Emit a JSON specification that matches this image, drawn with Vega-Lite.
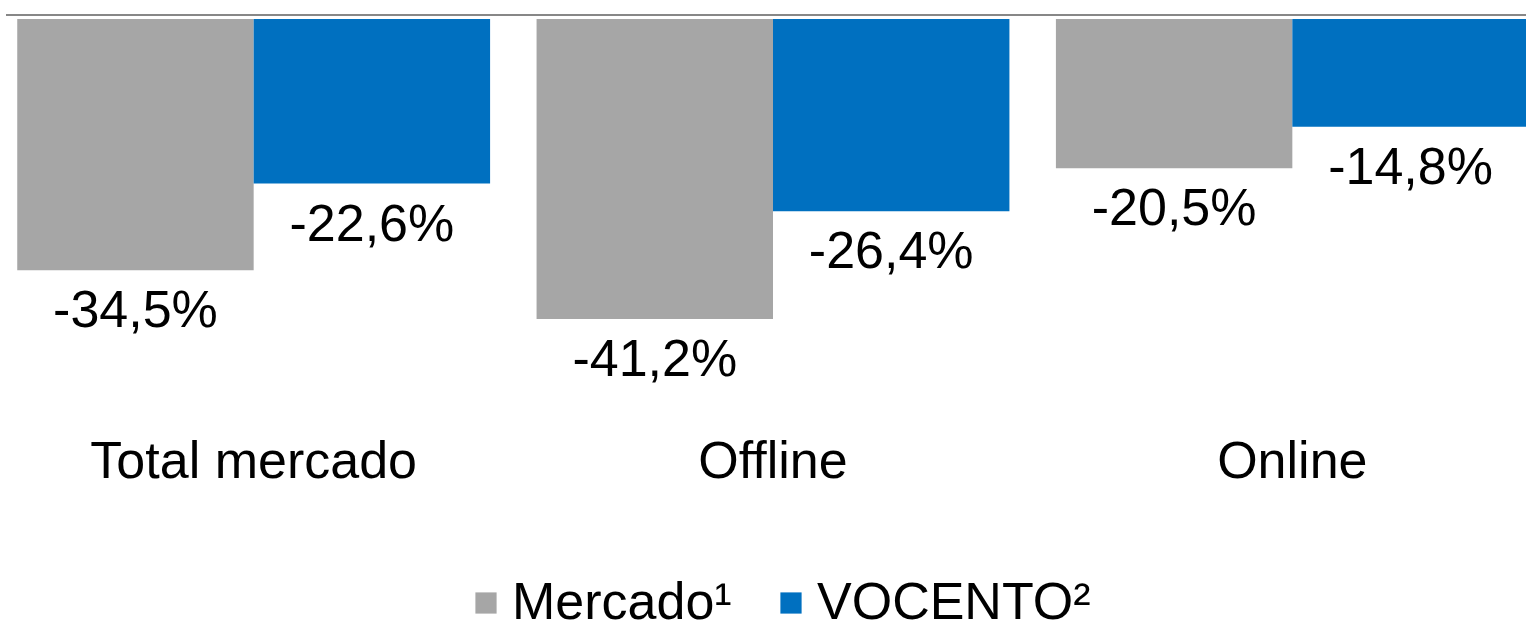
{
  "$schema": "https://vega.github.io/schema/vega-lite/v6.json",
  "autosize": {"type": "none"},
  "width": 1520,
  "height": 400,
  "padding": {"left": 6, "top": 19, "right": 0, "bottom": 215},
  "background": "white",
  "config": {
    "view": {"stroke": null},
    "font": "Liberation Sans",
    "locale": {
      "number": {"decimal": ",", "thousands": ".", "grouping": [3], "currency": ["", " €"], "minus": "-", "percent": "%"}
    }
  },
  "data": {
    "values": [
      {"categoria": "Total mercado", "serie": "Mercado¹", "valor": -0.345},
      {"categoria": "Total mercado", "serie": "VOCENTO²", "valor": -0.226},
      {"categoria": "Offline", "serie": "Mercado¹", "valor": -0.412},
      {"categoria": "Offline", "serie": "VOCENTO²", "valor": -0.264},
      {"categoria": "Online", "serie": "Mercado¹", "valor": -0.205},
      {"categoria": "Online", "serie": "VOCENTO²", "valor": -0.148}
    ]
  },
  "layer": [
    {
      "mark": {"type": "bar"},
      "encoding": {
        "x": {
          "field": "categoria",
          "type": "nominal",
          "sort": ["Total mercado", "Offline", "Online"],
          "scale": {"range": [-12, 1546], "paddingInner": 0.0895, "paddingOuter": 0.04475},
          "axis": {
            "title": null,
            "orient": "bottom",
            "domain": false,
            "ticks": false,
            "labelAngle": 0,
            "labelFontSize": 52,
            "labelColor": "#000000",
            "labelFont": "Liberation Sans",
            "labelBaseline": "alphabetic",
            "labelPadding": 58,
            "labelLimit": 600
          }
        },
        "xOffset": {
          "field": "serie",
          "type": "nominal",
          "sort": ["Mercado¹", "VOCENTO²"],
          "scale": {"paddingInner": 0, "paddingOuter": 0}
        },
        "y": {
          "field": "valor",
          "type": "quantitative",
          "scale": {"domain": [-0.5495, 0], "nice": false, "zero": true},
          "axis": null
        },
        "color": {
          "field": "serie",
          "type": "nominal",
          "sort": ["Mercado¹", "VOCENTO²"],
          "scale": {"domain": ["Mercado¹", "VOCENTO²"], "range": ["#A6A6A6", "#0070C0"]},
          "legend": {
            "title": null,
            "orient": "none",
            "direction": "horizontal",
            "legendX": 454,
            "legendY": 558,
            "symbolType": "square",
            "symbolSize": 450,
            "symbolStrokeWidth": 0,
            "labelFontSize": 52,
            "labelFont": "Liberation Sans",
            "labelColor": "#000000",
            "labelOffset": 0,
            "columnPadding": 33,
            "labelLimit": 400
          }
        }
      }
    },
    {
      "mark": {"type": "text", "baseline": "alphabetic", "align": "center", "dy": 57, "fontSize": 52, "color": "#000000", "font": "Liberation Sans"},
      "encoding": {
        "x": {"field": "categoria", "type": "nominal", "sort": ["Total mercado", "Offline", "Online"]},
        "xOffset": {"field": "serie", "type": "nominal", "sort": ["Mercado¹", "VOCENTO²"]},
        "y": {"field": "valor", "type": "quantitative"},
        "text": {"field": "valor", "type": "quantitative", "format": ".1%"}
      }
    },
    {
      "mark": {"type": "rule", "color": "#878787", "strokeWidth": 2, "yOffset": -4},
      "encoding": {
        "y": {"datum": 0}
      }
    }
  ]
}
